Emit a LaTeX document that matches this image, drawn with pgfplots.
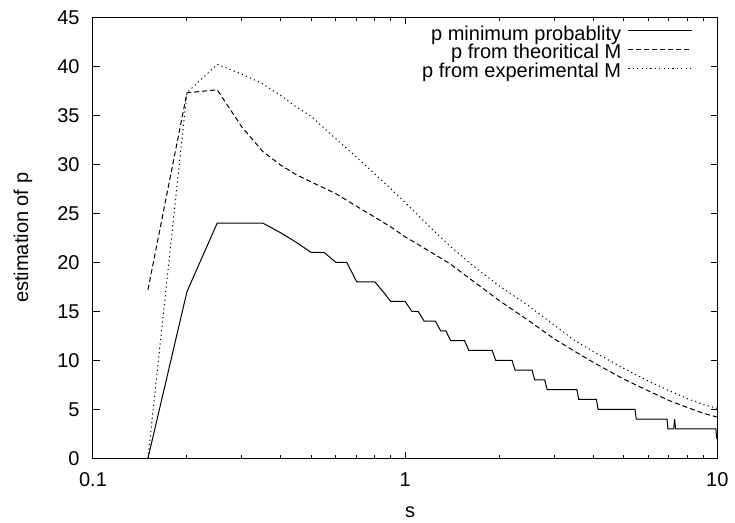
\documentclass[border=0pt]{standalone}
\usepackage{fontspec}
\setmainfont{Liberation Sans}
\usepackage{pgfplots}
\pgfplotsset{compat=1.18}
\begin{document}
\fontsize{10pt}{11pt}\selectfont
\begin{tikzpicture}
\begin{semilogxaxis}[
  scale only axis,
  width=312.15pt, height=220.5pt,
  xmin=0.1, xmax=10, ymin=0, ymax=45,
  xtick={0.1,1,10}, xticklabels={0.1,1,10},
  minor xtick={0.2,0.3,0.4,0.5,0.6,0.7,0.8,0.9,2,3,4,5,6,7,8,9},
  ytick={0,5,10,15,20,25,30,35,40,45},
  yticklabels={0,5,10,15,20,25,30,35,40,45},
  /pgf/number format/assume math mode=true,
  tick align=inside,
  major tick length=3.3pt, minor tick length=1.7pt,
  tick style={line width=0.5pt, black},
  axis line style={line width=0.5pt},
  yticklabel style={xshift=-3.2pt},
  xticklabel style={yshift=-3.5pt},
  xlabel={s}, ylabel={estimation of p},
  xlabel style={at={(axis description cs:0.508,-0.1338)}, anchor=base},
  ylabel style={at={(axis description cs:-0.104,0.5)}, anchor=base},
  every axis plot/.append style={line width=0.5pt, black},
  legend cell align=right, legend plot pos=right,
  legend image code/.code={\path[draw=none,fill=none] (0pt,2.7pt) -- (3.65pt,2.7pt); \draw[#1] (3.65pt,2.7pt) -- (35.65pt,2.7pt);},
  legend style={draw=none, fill=none, at={(axis description cs:1,1)}, anchor=north east,
    xshift=-12.15pt, yshift=-4.7pt, inner sep=0pt, outer sep=0pt,
    row sep=0pt, column sep=0pt,
    nodes={inner sep=0pt, text height=6.7pt, text depth=2.7pt}},
]
\addplot[solid] coordinates {
(0.15,0) (0.2,17) (0.25,24) (0.35,24) (0.4,23) (0.45,22) (0.5,21) (0.55,21)
(0.6,20) (0.65,20) (0.7,18) (0.8,18) (0.85,17) (0.9,16) (1.0,16) (1.05,15)
(1.1,15) (1.15,14) (1.25,14) (1.3,13) (1.35,13) (1.4,12) (1.55,12) (1.6,11)
(1.9,11) (1.95,10) (2.2,10) (2.25,9) (2.55,9) (2.6,8) (2.8,8) (2.85,7)
(3.55,7) (3.6,6) (4.1,6) (4.15,5) (5.45,5) (5.5,4) (6.9,4) (6.95,3)
(7.25,3) (7.3,4) (7.35,3) (9.9,3) (9.95,2)
};
\addlegendentry{p minimum probablity}
\addplot[dash pattern=on 2.5pt off 1.5pt] coordinates {
(0.15,17.2) (0.2,37.3) (0.25,37.6) (0.3,33.8) (0.35,31.3) (0.4,29.9) (0.45,28.9)
(0.5,28.2) (0.6,27.0) (0.7,25.7) (0.8,24.6) (0.9,23.6) (1.0,22.6) (1.2,21.1)
(1.4,19.8) (1.6,18.4) (1.8,17.2) (2.0,16.1) (2.5,14.0) (3.0,12.2) (3.5,10.9)
(4.0,9.8) (5.0,8.1) (6.0,6.9) (7.0,5.9) (8.0,5.2) (9.0,4.6) (10,4.2)
};
\addlegendentry{p from theoritical M}
\addplot[dash pattern=on 0.6pt off 1.6pt] coordinates {
(0.15,0) (0.2,37.3) (0.25,40.2) (0.3,39.2) (0.35,38.2) (0.4,37.0) (0.45,35.8)
(0.5,34.9) (0.6,32.6) (0.7,30.7) (0.8,29.0) (0.9,27.5) (1.0,26.1) (1.2,23.6)
(1.4,21.6) (1.6,20.0) (1.8,18.7) (2.0,17.6) (2.5,15.5) (3.0,13.6) (3.5,12.0)
(4.0,10.9) (5.0,9.2) (6.0,7.9) (7.0,6.9) (8.0,6.1) (9.0,5.5) (10,5.1)
};
\addlegendentry{p from experimental M}
\coordinate (sw) at (rel axis cs:0,0);
\coordinate (ne) at (rel axis cs:1,1);
\end{semilogxaxis}
\pgfresetboundingbox
\path ([shift={(-46.5pt,-32.35pt)}]sw) rectangle ([shift={(8.85pt,8.65pt)}]ne);
\end{tikzpicture}
\end{document}
